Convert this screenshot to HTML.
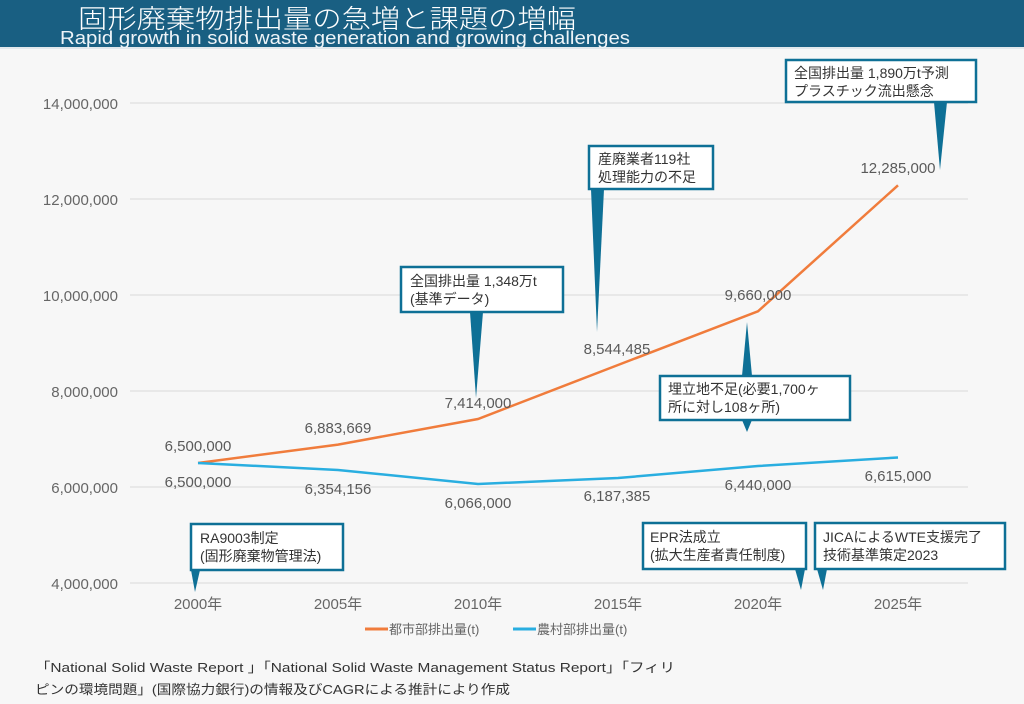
<!DOCTYPE html>
<html><head><meta charset="utf-8"><style>
html,body{margin:0;padding:0;background:#f7f7f7;}
svg{display:block;font-family:"Liberation Sans","Noto Sans CJK JP",sans-serif;}
</style></head><body>
<svg width="1024" height="704" viewBox="0 0 1024 704" xmlns="http://www.w3.org/2000/svg">
<rect width="1024" height="704" fill="#f7f7f7"/>
<rect width="1024" height="47" fill="#195f82"/>
<rect y="47" width="1024" height="2" fill="#e2e8ec"/>
<text x="78" y="28" font-size="26" fill="#fff" font-family="'Noto Sans CJK JP',sans-serif" font-weight="300" textLength="498" lengthAdjust="spacingAndGlyphs">固形廃棄物排出量の急増と課題の増幅</text>
<text x="60" y="44" font-size="18" fill="#eef4f8" textLength="570" lengthAdjust="spacingAndGlyphs">Rapid growth in solid waste generation and growing challenges</text>

<g stroke="#e3e3e3" stroke-width="1.5">
<line x1="130" y1="103" x2="968" y2="103"/><line x1="130" y1="199" x2="968" y2="199"/>
<line x1="130" y1="295" x2="968" y2="295"/><line x1="130" y1="391" x2="968" y2="391"/>
<line x1="130" y1="487" x2="968" y2="487"/><line x1="130" y1="583" x2="968" y2="583"/>
</g>
<g font-size="15" fill="#666" text-anchor="end">
<text x="118" y="109">14,000,000</text><text x="118" y="205">12,000,000</text>
<text x="118" y="301">10,000,000</text><text x="118" y="397">8,000,000</text>
<text x="118" y="493">6,000,000</text><text x="118" y="589">4,000,000</text>
</g>
<g font-size="15" fill="#666" text-anchor="middle">
<text x="198" y="609">2000年</text><text x="338" y="609">2005年</text><text x="478" y="609">2010年</text>
<text x="618" y="609">2015年</text><text x="758" y="609">2020年</text><text x="898" y="609">2025年</text>
</g>

<polyline fill="none" stroke="#f07c3c" stroke-width="2.5" points="198,463 338,444.6 478,419 618,365 758,311.3 898,185.3"/>
<polyline fill="none" stroke="#29aee0" stroke-width="2.5" points="198,463 338,470 478,484 618,478 758,466 898,457.5"/>

<g font-size="15" fill="#5a5a5a" text-anchor="middle">
<text x="198" y="451">6,500,000</text><text x="198" y="487">6,500,000</text>
<text x="338" y="433">6,883,669</text><text x="338" y="494">6,354,156</text>
<text x="478" y="408">7,414,000</text><text x="478" y="508">6,066,000</text>
<text x="617" y="354">8,544,485</text><text x="617" y="501">6,187,385</text>
<text x="758" y="300">9,660,000</text><text x="758" y="490">6,440,000</text>
<text x="898" y="173">12,285,000</text><text x="898" y="481">6,615,000</text>
</g>

<g fill="#0e7096">
<polygon points="934,102 947,102 940,170"/>
<polygon points="591,189 604,189 597,332"/>
<polygon points="470,312 483,312 476,398"/>
<polygon points="742,376 752,376 747,322"/>
<polygon points="742,420 752,420 747,432"/>
<polygon points="191,570 200,570 195,592"/>
<polygon points="795,569 805,569 801,590"/>
<polygon points="817,569 827,569 823,590"/>
</g>
<g fill="#fff" stroke="#0e7096" stroke-width="2.5">
<rect x="786" y="60" width="190" height="42"/>
<rect x="589" y="146" width="124" height="43"/>
<rect x="401" y="267" width="162" height="45"/>
<rect x="660" y="376" width="190" height="44"/>
<rect x="191" y="524" width="152" height="46"/>
<rect x="643" y="523" width="163" height="46"/>
<rect x="815" y="523" width="190" height="46"/>
</g>
<g font-size="14" fill="#333" font-family="'Liberation Sans','Noto Sans CJK JP',sans-serif">
<text x="794" y="78">全国排出量 1,890万t予測</text><text x="794" y="96">プラスチック流出懸念</text>
<text x="598" y="164">産廃業者119社</text><text x="598" y="182">処理能力の不足</text>
<text x="410" y="286">全国排出量 1,348万t</text><text x="410" y="304">(基準データ)</text>
<text x="668" y="394">埋立地不足(必要1,700ヶ</text><text x="668" y="412">所に対し108ヶ所)</text>
<text x="200" y="543">RA9003制定</text><text x="200" y="561">(固形廃棄物管理法)</text>
<text x="650" y="542">EPR法成立</text><text x="650" y="560">(拡大生産者責任制度)</text>
<text x="823" y="542">JICAによるWTE支援完了</text><text x="823" y="560">技術基準策定2023</text>
</g>

<line x1="365" y1="629" x2="388" y2="629" stroke="#f07c3c" stroke-width="3"/>
<text x="389" y="634" font-size="13" fill="#666">都市部排出量(t)</text>
<line x1="513" y1="629" x2="536" y2="629" stroke="#29aee0" stroke-width="3"/>
<text x="537" y="634" font-size="13" fill="#666">農村部排出量(t)</text>

<g font-size="13" fill="#333">
<text x="35" y="672" textLength="640" lengthAdjust="spacingAndGlyphs">「National Solid Waste Report 」「National Solid Waste Management Status Report」「フィリ</text>
<text x="35" y="694" textLength="475" lengthAdjust="spacingAndGlyphs">ピンの環境問題」(国際協力銀行)の情報及びCAGRによる推計により作成</text>
</g>
</svg>
</body></html>
